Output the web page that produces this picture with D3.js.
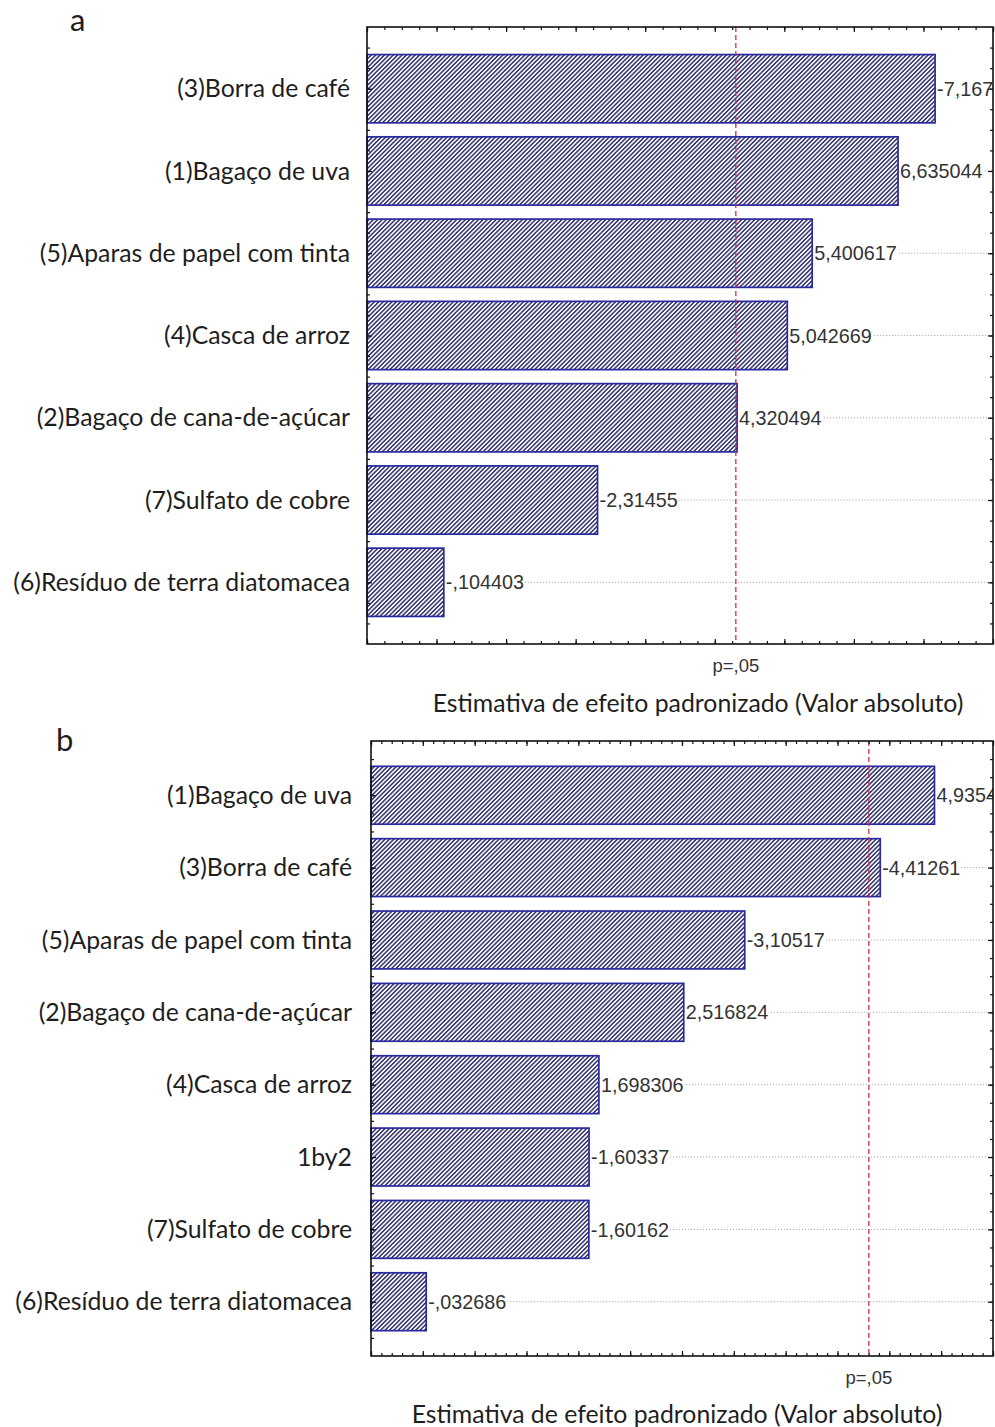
<!DOCTYPE html>
<html>
<head>
<meta charset="utf-8">
<script src="https://cdn.jsdelivr.net/npm/d3@7"></script>
<style>
  body { margin: 0; background: #fff; }
  svg { display: block; }
</style>
</head>
<body>
<script>
// Pareto charts of standardized effects (absolute value), two designs.
const factorsA = [
  "(3)Borra de café",
  "(1)Bagaço de uva",
  "(5)Aparas de papel com tinta",
  "(4)Casca de arroz",
  "(2)Bagaço de cana-de-açúcar",
  "(7)Sulfato de cobre",
  "(6)Resíduo de terra diatomacea"
];
const effectsA = [-7.16735, 6.635044, 5.400617, 5.042669, 4.320494, -2.31455, -0.104403];

const factorsB = [
  "(1)Bagaço de uva",
  "(3)Borra de café",
  "(5)Aparas de papel com tinta",
  "(2)Bagaço de cana-de-açúcar",
  "(4)Casca de arroz",
  "1by2",
  "(7)Sulfato de cobre",
  "(6)Resíduo de terra diatomacea"
];
const effectsB = [4.935417, -4.41261, -3.10517, 2.516824, 1.698306, -1.60337, -1.60162, -0.032686];

const tCritical = 4.302653;   // t(0.975; 2 gl)
const pLabel = "p=,05";
const xTitle = "Estimativa de efeito padronizado (Valor absoluto)";

const labelFont = "Lato, 'Open Sans', sans-serif";
const numFont = "'Liberation Sans', Arial, sans-serif";

const W = 995, H = 1427;
const svg = d3.select("body").append("svg")
  .attr("width", W).attr("height", H)
  .attr("viewBox", `0 0 ${W} ${H}`);

svg.append("rect").attr("width", W).attr("height", H).attr("fill", "#fff");

const defs = svg.append("defs");
const hp = 3.1;
const hatch = defs.append("pattern")
  .attr("id", "hatch")
  .attr("patternUnits", "userSpaceOnUse")
  .attr("width", hp).attr("height", hp)
  .attr("patternTransform", "rotate(45)");
hatch.append("rect").attr("width", hp).attr("height", hp).attr("fill", "#fafaff");
hatch.append("line")
  .attr("x1", 0.75).attr("y1", 0).attr("x2", 0.75).attr("y2", hp)
  .attr("stroke", "#34346c").attr("stroke-width", 1.5);

// Statistica-style numeric label: comma decimal, no leading zero, 8 chars max
function effLabel(v) {
  let s = String(v).replace(/^(-?)0\./, "$1.").replace(".", ",");
  return s.slice(0, 8);
}

function pareto(cfg) {
  const { id, letter, letterPos, factors, effects, box, xDomain, minorStep, majorStep,
          yDomain, barHalf, labelX, titlePos } = cfg;
  const g = svg.append("g");

  const x = d3.scaleLinear().domain(xDomain).range([box.x0, box.x1]);
  const y = d3.scaleLinear().domain(yDomain).range([box.y0, box.y1]);

  defs.append("clipPath").attr("id", "clip-" + id)
    .append("rect")
    .attr("x", box.x0).attr("y", box.y0)
    .attr("width", box.x1 - box.x0).attr("height", box.y1 - box.y0);

  const rows = factors.map((f, i) => ({ f, v: effects[i], pos: i + 1 }));

  // dotted grid through each row
  g.append("g").selectAll("line").data(rows).join("line")
    .attr("x1", d => x(Math.abs(d.v))).attr("x2", box.x1)
    .attr("y1", d => y(d.pos)).attr("y2", d => y(d.pos))
    .attr("stroke", "#9a9a9a").attr("stroke-width", 1)
    .attr("stroke-dasharray", "1,2");

  // bars
  g.append("g").selectAll("rect").data(rows).join("rect")
    .attr("x", x(xDomain[0]))
    .attr("y", d => y(d.pos - barHalf))
    .attr("width", d => x(Math.abs(d.v)) - x(xDomain[0]))
    .attr("height", d => y(d.pos + barHalf) - y(d.pos - barHalf))
    .attr("fill", "url(#hatch)")
    .attr("stroke", "#2a2aa0").attr("stroke-width", 1.7);

  // value labels
  const lab = g.append("g").attr("clip-path", `url(#clip-${id})`)
    .selectAll("g").data(rows).join("g")
    .attr("transform", d => `translate(${x(Math.abs(d.v)) + 2},${y(d.pos)})`);
  lab.append("rect").attr("fill", "#fff");
  lab.append("text")
    .attr("dy", "0.36em")
    .attr("font-family", numFont).attr("font-size", 19.8)
    .attr("fill", "#333")
    .text(d => effLabel(d.v));
  lab.each(function () {
    const t = d3.select(this).select("text").node().getBBox();
    d3.select(this).select("rect")
      .attr("x", t.x).attr("y", t.y + 2).attr("width", t.width + 1).attr("height", t.height - 4);
  });

  // critical value line
  g.append("line")
    .attr("x1", x(tCritical)).attr("x2", x(tCritical))
    .attr("y1", box.y0).attr("y2", box.y1)
    .attr("stroke", "#c83048").attr("stroke-width", 1.3)
    .attr("stroke-dasharray", "5,3");

  // inward ticks on all four sides
  const eps = 1e-9;
  const minorX = d3.range(xDomain[0], xDomain[1] + eps, minorStep).map(v => +v.toFixed(4));
  const majorX = minorX.filter(v => Math.abs(v / majorStep - Math.round(v / majorStep)) < 1e-6);
  const minorY = d3.range(0.5, yDomain[1], 0.25);
  const majorY = minorY.filter(v => Math.abs(v - Math.round(v)) < 1e-6);

  const tickStyle = sel => {
    sel.select(".domain").remove();
    sel.selectAll("line").attr("stroke", "#111").attr("stroke-width", 1.2);
  };
  const addAxis = (axisFn, scale, vals, size, tr) => {
    g.append("g").attr("transform", tr)
      .call(axisFn(scale).tickValues(vals).tickSize(-size).tickFormat(""))
      .call(tickStyle);
  };
  addAxis(d3.axisBottom, x, minorX, 3, `translate(0,${box.y1})`);
  addAxis(d3.axisBottom, x, majorX, 5, `translate(0,${box.y1})`);
  addAxis(d3.axisTop, x, minorX, 3, `translate(0,${box.y0})`);
  addAxis(d3.axisTop, x, majorX, 5, `translate(0,${box.y0})`);
  addAxis(d3.axisLeft, y, minorY, 3, `translate(${box.x0},0)`);
  addAxis(d3.axisLeft, y, majorY, 5, `translate(${box.x0},0)`);
  addAxis(d3.axisRight, y, minorY, 3, `translate(${box.x1},0)`);
  addAxis(d3.axisRight, y, majorY, 5, `translate(${box.x1},0)`);

  // frame
  g.append("rect")
    .attr("x", box.x0).attr("y", box.y0)
    .attr("width", box.x1 - box.x0).attr("height", box.y1 - box.y0)
    .attr("fill", "none").attr("stroke", "#111").attr("stroke-width", 1.6);

  // category labels
  g.append("g").selectAll("text").data(rows).join("text")
    .attr("x", labelX).attr("y", d => y(d.pos))
    .attr("dy", "0.35em")
    .attr("text-anchor", "end")
    .attr("font-family", labelFont).attr("font-size", 24.8)
    .attr("fill", "#1e1e1e")
    .text(d => d.f);

  // p label under the critical line
  g.append("text")
    .attr("x", x(tCritical)).attr("y", box.y1 + 22)
    .attr("dy", "0.35em")
    .attr("text-anchor", "middle")
    .attr("font-family", numFont).attr("font-size", 18.5)
    .attr("fill", "#333")
    .text(pLabel);

  // x-axis title
  g.append("text")
    .attr("x", titlePos[0]).attr("y", titlePos[1])
    .attr("dy", "0.35em")
    .attr("text-anchor", "middle")
    .attr("font-family", labelFont).attr("font-size", 24.8)
    .attr("fill", "#1e1e1e")
    .text(xTitle);

  // panel letter
  g.append("text")
    .attr("x", letterPos[0]).attr("y", letterPos[1])
    .attr("font-family", labelFont).attr("font-size", 31)
    .attr("fill", "#1e1e1e")
    .text(letter);
}

pareto({
  id: "a", letter: "a", letterPos: [70, 31],
  factors: factorsA, effects: effectsA,
  box: { x0: 367, x1: 993, y0: 27, y1: 644 },
  xDomain: [-1, 8], minorStep: 0.25, majorStep: 1,
  yDomain: [0.25, 7.75], barHalf: 0.415,
  labelX: 350, titlePos: [698, 703]
});

pareto({
  id: "b", letter: "b", letterPos: [56, 751],
  factors: factorsB, effects: effectsB,
  box: { x0: 371, x1: 993, y0: 741, y1: 1356 },
  xDomain: [-0.5, 5.5], minorStep: 0.1, majorStep: 0.5,
  yDomain: [0.25, 8.75], barHalf: 0.4,
  labelX: 352, titlePos: [677, 1414]
});
</script>
</body>
</html>
